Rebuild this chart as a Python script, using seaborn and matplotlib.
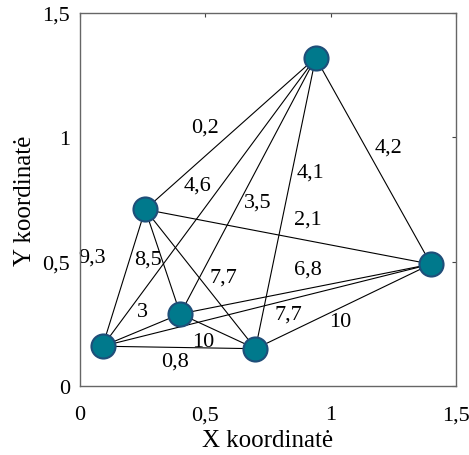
import numpy as np
import pandas as pd
import matplotlib
matplotlib.use("Agg")
import matplotlib.pyplot as plt
import seaborn as sns

# node coordinates
node_x = [0.09, 0.26, 0.40, 0.70, 0.94, 1.40]
node_y = [0.16, 0.71, 0.29, 0.15, 1.32, 0.49]

# edges (node index pairs) and their weights
edge_from = [4, 4, 4, 4, 4, 1, 1, 1, 1, 0, 0, 0, 2, 2, 3]
edge_to = [1, 0, 2, 3, 5, 5, 0, 2, 3, 2, 3, 5, 3, 5, 5]
edge_w = ["0,2", "4,6", "3,5", "4,1", "4,2", "2,1", "9,3", "8,5", "7,7",
          "3", "0,8", "6,8", "10", "7,7", "10"]

ticks = [0, 0.5, 1, 1.5]
tick_labels = ["0", "0,5", "1", "1,5"]

# where the weight labels sit
label_pos = [(0.50, 1.04), (0.47, 0.81), (0.71, 0.74), (0.92, 0.86), (1.23, 0.96),
             (0.91, 0.67), (0.05, 0.52), (0.27, 0.51), (0.57, 0.44), (0.25, 0.30),
             (0.38, 0.10), (0.91, 0.47), (0.49, 0.18), (0.83, 0.29), (1.04, 0.26)]

sns.set_style("white")
plt.rcParams['font.family'] = ['Liberation Serif', 'DejaVu Serif']
plt.rcParams['text.color'] = 'black'

nodes = pd.DataFrame({"x": node_x, "y": node_y})

fig = plt.figure(figsize=(4.69, 4.56), dpi=100)
ax = fig.add_axes([0.1706, 0.1513, 0.8017, 0.818])

for a, b in zip(edge_from, edge_to):
    ax.plot([node_x[a], node_x[b]], [node_y[a], node_y[b]], color="black", lw=0.8, zorder=1)

sns.scatterplot(data=nodes, x="x", y="y", s=300, color="#00798C", edgecolor="#1F4E79",
                linewidth=1.5, zorder=3, ax=ax)

for txt, (lx, ly) in zip(edge_w, label_pos):
    ax.text(lx, ly, txt, fontsize=16, color="black", ha="center", va="center", zorder=2)

ax.set_xlim(0, 1.5)
ax.set_ylim(0, 1.5)
ax.set_xticks(ticks)
ax.set_xticklabels(tick_labels)
ax.set_yticks(ticks)
ax.set_yticklabels(tick_labels)
ax.tick_params(direction="in", length=3, width=0.8, color="#444444", labelsize=16,
               labelcolor="black", top=True, right=True, pad=7)
ax.tick_params(axis="x", pad=14)
for s in ax.spines.values():
    s.set_color("#666666")
    s.set_linewidth(1.0)
ax.set_xlabel("X koordinatė", fontsize=18, color="black", labelpad=3)
ax.set_ylabel("Y koordinatė", fontsize=18, color="black", labelpad=5)

fig.savefig("out.png", dpi=100)
